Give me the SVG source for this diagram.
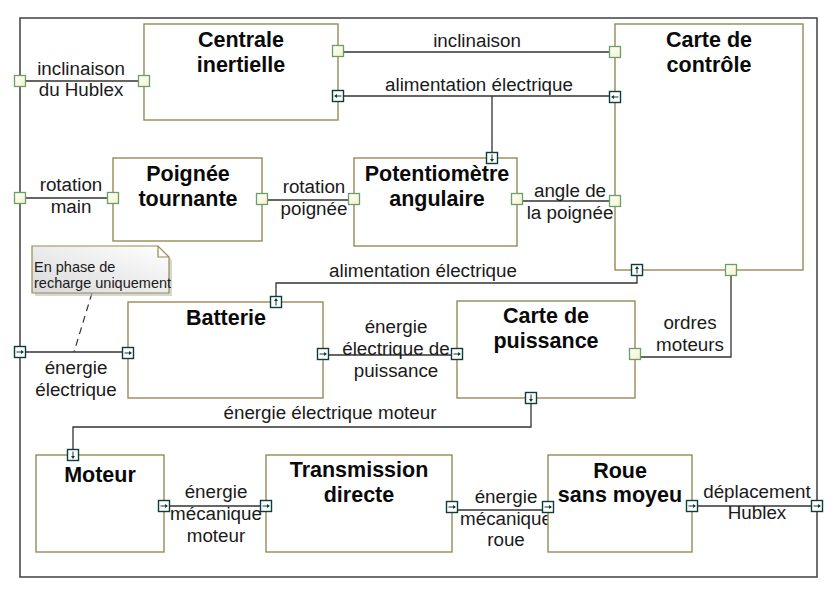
<svg xmlns="http://www.w3.org/2000/svg" xmlns:xlink="http://www.w3.org/1999/xlink" width="833" height="593" viewBox="0 0 833 593">
<defs>
<linearGradient id="pg" x1="0" y1="0" x2="1" y2="1"><stop offset="0" stop-color="#ffffff"/><stop offset="1" stop-color="#f4f2c8"/></linearGradient>
<linearGradient id="ng" x1="1" y1="0" x2="0" y2="1"><stop offset="0" stop-color="#ffffff"/><stop offset="1" stop-color="#d9d9d9"/></linearGradient>
<g id="fp"><rect x="-5.5" y="-5.5" width="11" height="11" fill="#fff" stroke="#0e3d38" stroke-width="1.4"/><path d="M-3.5,0H2" fill="none" stroke="#0e3d38" stroke-width="1"/><path d="M1,-2L4,0L1,2Z" fill="#0e3d38"/></g>
<rect id="p" x="-5.5" y="-5.5" width="11" height="11" fill="url(#pg)" stroke="#6a9f6a" stroke-width="1.3"/>
</defs>
<style>
.box{fill:#fff;stroke:#968a55;stroke-width:1.4}
.t{font-family:"Liberation Sans",Arial,sans-serif;font-weight:bold;font-size:21.5px;text-anchor:middle;fill:#0a0a0a}
.l{font-family:"Liberation Sans",Arial,sans-serif;font-size:18.8px;text-anchor:middle;fill:#1a1a1a}
.c{fill:none;stroke:#333;stroke-width:1.3}
</style>
<rect x="0" y="0" width="833" height="593" fill="#fff"/>
<g id="frame"><rect x="20" y="18" width="797" height="559" fill="none" stroke="#404040" stroke-width="1.5"/></g>
<g id="connectors">
<path class="c" d="M20,81H144"/>
<path class="c" d="M338,52H615"/>
<path class="c" d="M338,96H615M492,96V152"/>
<path class="c" d="M20,198H113"/>
<path class="c" d="M262,200H354"/>
<path class="c" d="M517,201H615"/>
<path class="c" d="M637,270V283H276V302"/>
<path class="c" d="M731,270V357H635"/>
<path class="c" d="M20,352H128"/>
<path class="c" d="M323,355H457"/>
<path class="c" d="M531,398V427H73V455"/>
<path class="c" d="M164,506H266"/>
<path class="c" d="M452,510H548"/>
<path class="c" d="M692,506H817"/>
<path d="M92,293L74,352" fill="none" stroke="#333" stroke-width="1.2" stroke-dasharray="7,5"/>
</g>
<g id="labels">
<text class="l" x="81" y="75">inclinaison</text><text class="l" x="81" y="96">du Hublex</text>
<text class="l" x="477" y="47">inclinaison</text>
<text class="l" x="479" y="91">alimentation électrique</text>
<text class="l" x="71" y="191">rotation</text><text class="l" x="71" y="213">main</text>
<text class="l" x="314" y="193">rotation</text><text class="l" x="314" y="215">poignée</text>
<text class="l" x="570" y="197">angle de</text><text class="l" x="570" y="219">la poignée</text>
<text class="l" x="423" y="277">alimentation électrique</text>
<text class="l" x="396" y="333">énergie</text><text class="l" x="396" y="355">électrique de</text><text class="l" x="396" y="377">puissance</text>
<text class="l" x="690" y="329">ordres</text><text class="l" x="690" y="351">moteurs</text>
<text class="l" x="76" y="374">énergie</text><text class="l" x="76" y="396">électrique</text>
<text class="l" x="330" y="419">énergie électrique moteur</text>
<text class="l" x="216" y="498">énergie</text><text class="l" x="216" y="520">mécanique</text><text class="l" x="216" y="542">moteur</text>
<text class="l" x="506" y="503">énergie</text><text class="l" x="506" y="525">mécanique</text><text class="l" x="506" y="546">roue</text>
<text class="l" x="757" y="498">déplacement</text><text class="l" x="757" y="519">Hublex</text>
</g>
<g id="note">
<path d="M35,249H161L172,260V296H35Z" fill="#bdbdbd" opacity="0.6"/>
<path d="M32,246H158L169,257V293H32Z" fill="url(#ng)" stroke="#968a55" stroke-width="1.2"/>
<path d="M158,246V257H169" fill="none" stroke="#968a55" stroke-width="1.2"/>
<text x="34" y="272" font-family="Liberation Sans, Arial, sans-serif" font-size="14.5" fill="#1a1a1a">En phase de</text>
<text x="34" y="288" font-family="Liberation Sans, Arial, sans-serif" font-size="14.5" fill="#1a1a1a">recharge uniquement</text>
</g>
<g id="frame-ports">
<use href="#p" x="20" y="81"/>
<use href="#p" x="20" y="198"/>
<use href="#fp" x="20" y="352"/>
<use href="#fp" x="817" y="506"/>
</g>
<g id="centrale">
<rect class="box" x="144" y="24" width="194" height="96"/>
<text class="t" x="241" y="47">Centrale</text><text class="t" x="241" y="72">inertielle</text>
<use href="#p" x="144" y="81"/><use href="#p" x="338" y="51"/>
<use href="#fp" transform="translate(338,96) rotate(180)"/>
</g>
<g id="carte-controle">
<rect class="box" x="615" y="24" width="188" height="246"/>
<text class="t" x="709" y="47">Carte de</text><text class="t" x="709" y="72">contrôle</text>
<use href="#p" x="615" y="52"/><use href="#p" x="615" y="201"/><use href="#p" x="731" y="270"/>
<use href="#fp" transform="translate(615,97) rotate(180)"/>
<use href="#fp" transform="translate(637,270) rotate(-90)"/>
</g>
<g id="poignee">
<rect class="box" x="113" y="158" width="149" height="83"/>
<text class="t" x="188" y="181">Poignée</text><text class="t" x="188" y="206">tournante</text>
<use href="#p" x="113" y="198"/><use href="#p" x="262" y="199"/>
</g>
<g id="potentiometre">
<rect class="box" x="354" y="158" width="163" height="88"/>
<text class="t" x="437" y="181">Potentiomètre</text><text class="t" x="437" y="206">angulaire</text>
<use href="#p" x="354" y="199"/><use href="#p" x="517" y="199"/>
<use href="#fp" transform="translate(492,158) rotate(90)"/>
</g>
<g id="batterie">
<rect class="box" x="128" y="302" width="195" height="96"/>
<text class="t" x="226" y="325">Batterie</text>
<use href="#fp" x="128" y="353"/><use href="#fp" x="323" y="354"/>
<use href="#fp" transform="translate(276,302) rotate(-90)"/>
</g>
<g id="carte-puissance">
<rect class="box" x="457" y="301" width="178" height="97"/>
<text class="t" x="546" y="323">Carte de</text><text class="t" x="546" y="348">puissance</text>
<use href="#fp" x="457" y="354"/><use href="#p" x="635" y="354"/>
<use href="#fp" transform="translate(531,398) rotate(90)"/>
</g>
<g id="moteur">
<rect class="box" x="36" y="455" width="128" height="97"/>
<text class="t" x="100" y="482">Moteur</text>
<use href="#fp" transform="translate(73,455) rotate(90)"/>
<use href="#fp" x="164" y="506"/>
</g>
<g id="transmission">
<rect class="box" x="266" y="455" width="186" height="97"/>
<text class="t" x="359" y="477">Transmission</text><text class="t" x="359" y="502">directe</text>
<use href="#fp" x="266" y="506"/><use href="#fp" x="452" y="507"/>
</g>
<g id="roue">
<rect class="box" x="548" y="455" width="144" height="97"/>
<text class="t" x="620" y="478">Roue</text><text class="t" x="620" y="502">sans moyeu</text>
<use href="#fp" x="548" y="507"/><use href="#fp" x="692" y="506"/>
</g>
</svg>
